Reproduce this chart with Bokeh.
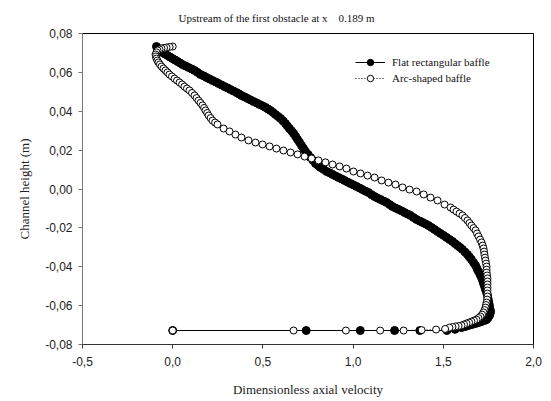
from bokeh.plotting import figure
from bokeh.models import FixedTicker, Legend, LegendItem, Range1d
from bokeh.embed import file_html
from bokeh.resources import INLINE

title_text = "Upstream of the first obstacle at x \u00a0 \u00a00.189 m"
x_label = "Dimensionless axial velocity"
y_label = "Channel height (m)"
series_names = ["Flat rectangular baffle", "Arc-shaped baffle"]

x_ticks = [-0.5, 0.0, 0.5, 1.0, 1.5, 2.0]
x_tick_labels = ["-0,5", "0,0", "0,5", "1,0", "1,5", "2,0"]
y_ticks = [-0.08, -0.06, -0.04, -0.02, 0.0, 0.02, 0.04, 0.06, 0.08]
y_tick_labels = ["-0,08", "-0,06", "-0,04", "-0,02", "0,00", "0,02", "0,04", "0,06", "0,08"]

# Flat rectangular baffle (filled circles), read along the profile from top wall to bottom wall
flat_x = [-0.090, -0.085, -0.079, -0.068, -0.057, -0.043, -0.029, -0.015, -0.001, 0.013,
          0.027, 0.041, 0.054, 0.071, 0.088, 0.105, 0.121, 0.138, 0.154, 0.171,
          0.187, 0.204, 0.221, 0.238, 0.254, 0.271, 0.287, 0.304, 0.320, 0.337,
          0.354, 0.368, 0.381, 0.398, 0.415, 0.432, 0.448, 0.465, 0.481, 0.498,
          0.514, 0.528, 0.542, 0.556, 0.570, 0.584, 0.598, 0.612, 0.625, 0.636,
          0.647, 0.659, 0.670, 0.681, 0.692, 0.703, 0.714, 0.725, 0.736, 0.750,
          0.764, 0.778, 0.792, 0.806, 0.819, 0.836, 0.853, 0.870, 0.886, 0.903,
          0.919, 0.936, 0.952, 0.969, 0.985, 1.002, 1.019, 1.036, 1.052, 1.069,
          1.085, 1.102, 1.119, 1.136, 1.152, 1.169, 1.185, 1.202, 1.218, 1.235,
          1.252, 1.269, 1.285, 1.302, 1.318, 1.335, 1.352, 1.369, 1.385, 1.402,
          1.418, 1.435, 1.451, 1.468, 1.485, 1.502, 1.518, 1.535, 1.551, 1.565,
          1.579, 1.593, 1.606, 1.620, 1.634, 1.645, 1.656, 1.668, 1.679, 1.687,
          1.695, 1.704, 1.712, 1.718, 1.723, 1.729, 1.734, 1.740, 1.745, 1.748,
          1.751, 1.754, 1.756, 1.759, 1.762, 1.759, 1.756, 1.748, 1.740, 1.726,
          1.712, 1.696, 1.679, 1.660, 1.640, 1.621, 1.601,
          1.565, 1.520, 1.370, 1.230, 1.040, 0.740, 0.000]
flat_y = [0.0733, 0.0726, 0.0718, 0.0710, 0.0702, 0.0695, 0.0687, 0.0679, 0.0671, 0.0664,
          0.0656, 0.0648, 0.0640, 0.0633, 0.0625, 0.0618, 0.0610, 0.0600, 0.0589, 0.0582,
          0.0574, 0.0566, 0.0558, 0.0551, 0.0543, 0.0535, 0.0527, 0.0520, 0.0512, 0.0504,
          0.0496, 0.0489, 0.0481, 0.0474, 0.0466, 0.0458, 0.0450, 0.0443, 0.0435, 0.0428,
          0.0420, 0.0412, 0.0404, 0.0394, 0.0383, 0.0373, 0.0363, 0.0350, 0.0337, 0.0324,
          0.0311, 0.0299, 0.0286, 0.0271, 0.0255, 0.0240, 0.0224, 0.0209, 0.0193, 0.0178,
          0.0162, 0.0147, 0.0131, 0.0121, 0.0111, 0.0101, 0.0090, 0.0083, 0.0075, 0.0067,
          0.0059, 0.0052, 0.0044, 0.0036, 0.0028, 0.0021, 0.0013, 0.0005, -0.0003, -0.0011,
          -0.0018, -0.0029, -0.0039, -0.0047, -0.0054, -0.0062, -0.0069, -0.0080, -0.0090, -0.0098,
          -0.0105, -0.0113, -0.0121, -0.0129, -0.0136, -0.0147, -0.0157, -0.0165, -0.0172, -0.0180,
          -0.0188, -0.0198, -0.0208, -0.0219, -0.0229, -0.0239, -0.0249, -0.0260, -0.0270, -0.0281,
          -0.0291, -0.0301, -0.0311, -0.0324, -0.0337, -0.0350, -0.0363, -0.0379, -0.0394, -0.0410,
          -0.0425, -0.0441, -0.0456, -0.0471, -0.0486, -0.0502, -0.0517, -0.0533, -0.0548, -0.0564,
          -0.0579, -0.0592, -0.0605, -0.0618, -0.0630, -0.0641, -0.0651, -0.0662, -0.0672, -0.0677,
          -0.0682, -0.0687, -0.0692, -0.0697, -0.0702, -0.0708, -0.0713,
          -0.0722, -0.0728, -0.0728, -0.0728, -0.0728, -0.0728, -0.0728]

# Arc-shaped baffle (open circles)
arc_x = [0.000, -0.017, -0.034, -0.048, -0.062, -0.073, -0.084, -0.090, -0.095, -0.093,
         -0.090, -0.085, -0.079, -0.071, -0.062, -0.051, -0.040, -0.029, -0.018, -0.004,
         0.010, 0.024, 0.038, 0.052, 0.065, 0.079, 0.093, 0.107, 0.121, 0.132,
         0.143, 0.154, 0.165, 0.174, 0.182, 0.191, 0.199, 0.210, 0.221, 0.235,
         0.248,
         0.282, 0.315, 0.348, 0.381, 0.420, 0.459, 0.498, 0.537, 0.575, 0.614,
         0.653, 0.692, 0.731, 0.770, 0.808, 0.847, 0.886, 0.925, 0.963, 1.002,
         1.041, 1.080, 1.119, 1.158, 1.196, 1.235, 1.274, 1.313, 1.352, 1.391,
         1.429, 1.468, 1.507,
         1.540, 1.557, 1.573, 1.590, 1.606, 1.620, 1.634, 1.645, 1.656, 1.668,
         1.679, 1.687, 1.695, 1.704, 1.712, 1.718, 1.723, 1.726, 1.728, 1.731,
         1.734, 1.737, 1.740, 1.740, 1.740, 1.743, 1.745, 1.745, 1.745, 1.745,
         1.745, 1.745, 1.745, 1.743, 1.740, 1.737, 1.734, 1.729, 1.723, 1.715,
         1.706, 1.695, 1.684, 1.670, 1.656, 1.643, 1.629, 1.615, 1.601, 1.585,
         1.568, 1.551, 1.534,
         1.510, 1.460, 1.380, 1.280, 1.150, 0.960, 0.670, 0.000]
arc_y = [0.0733, 0.0731, 0.0728, 0.0726, 0.0723, 0.0718, 0.0713, 0.0703, 0.0692, 0.0682,
         0.0671, 0.0661, 0.0651, 0.0641, 0.0630, 0.0620, 0.0610, 0.0600, 0.0589, 0.0579,
         0.0568, 0.0558, 0.0548, 0.0538, 0.0527, 0.0517, 0.0507, 0.0494, 0.0481, 0.0468,
         0.0455, 0.0443, 0.0430, 0.0417, 0.0404, 0.0391, 0.0378, 0.0365, 0.0352, 0.0342,
         0.0332,
         0.0311, 0.0296, 0.0280, 0.0265, 0.0250, 0.0239, 0.0229, 0.0219, 0.0208, 0.0198,
         0.0188, 0.0178, 0.0167, 0.0157, 0.0147, 0.0137, 0.0126, 0.0116, 0.0105, 0.0090,
         0.0080, 0.0069, 0.0059, 0.0044, 0.0033, 0.0023, 0.0008, -0.0003, -0.0013, -0.0028,
         -0.0044, -0.0059, -0.0080,
         -0.0095, -0.0106, -0.0116, -0.0126, -0.0136, -0.0149, -0.0162, -0.0175, -0.0188, -0.0201,
         -0.0213, -0.0229, -0.0244, -0.0260, -0.0275, -0.0291, -0.0306, -0.0322, -0.0337, -0.0353,
         -0.0368, -0.0384, -0.0399, -0.0415, -0.0430, -0.0445, -0.0460, -0.0476, -0.0491, -0.0507,
         -0.0522, -0.0538, -0.0553, -0.0569, -0.0584, -0.0597, -0.0610, -0.0623, -0.0635, -0.0646,
         -0.0656, -0.0664, -0.0672, -0.0677, -0.0682, -0.0687, -0.0692, -0.0697, -0.0702, -0.0705,
         -0.0707, -0.0710, -0.0713,
         -0.0720, -0.0723, -0.0726, -0.0728, -0.0728, -0.0728, -0.0728, -0.0728]

p = figure(width=551, height=401, output_backend="svg", toolbar_location=None,
           x_range=Range1d(-0.5, 2.0), y_range=Range1d(-0.08, 0.08),
           min_border_left=82, min_border_right=18, min_border_top=33, min_border_bottom=57)
p.background_fill_color = "white"
p.border_fill_color = "white"
p.outline_line_color = "black"
p.outline_line_width = 1
p.xgrid.visible = False
p.ygrid.visible = False

p.title.text = title_text
p.title.text_font = "Liberation Serif"
p.title.text_font_size = "11px"
p.title.text_font_style = "normal"
p.title.text_color = "#111111"
p.title.align = "left"
p.title.offset = 96
p.title.vertical_align = "top"
p.title.standoff = 15

l1 = p.line(flat_x, flat_y, line_color="black", line_width=1)
s1 = p.scatter(flat_x, flat_y, marker="circle", size=8, fill_color="black", line_color="black")
l2 = p.line(arc_x, arc_y, line_color="black", line_width=1, line_dash="1 2")
s2 = p.scatter(arc_x, arc_y, marker="circle", size=7, fill_color="white", line_color="black", line_width=1)

legend = Legend(items=[LegendItem(label=series_names[0], renderers=[l1, s1]),
                       LegendItem(label=series_names[1], renderers=[l2, s2])],
                location=(273, 258), border_line_color=None, background_fill_alpha=0,
                padding=0, spacing=0, margin=0, glyph_width=30, glyph_height=16,
                label_height=16, label_standoff=7,
                label_text_font="Liberation Serif", label_text_font_size="11px",
                label_text_color="#111111")
p.add_layout(legend)

p.xaxis.ticker = FixedTicker(ticks=x_ticks, minor_ticks=[])
p.xaxis.major_label_overrides = dict(zip(x_ticks, x_tick_labels))
p.yaxis.ticker = FixedTicker(ticks=y_ticks, minor_ticks=[])
p.yaxis.major_label_overrides = dict(zip(y_ticks, y_tick_labels))

for ax in (p.xaxis[0], p.yaxis[0]):
    ax.major_tick_out = 4
    ax.major_tick_in = 0
    ax.minor_tick_out = 0
    ax.minor_tick_in = 0
    ax.major_label_text_font = "Liberation Sans"
    ax.major_label_text_font_size = "12px"
    ax.major_label_text_color = "#222222"
    ax.axis_label_text_font = "Liberation Serif"
    ax.axis_label_text_font_size = "13px"
    ax.axis_label_text_font_style = "normal"
    ax.axis_label_text_color = "#222222"

p.xaxis.axis_label = x_label
p.yaxis.axis_label = y_label
p.xaxis.axis_line_color = "#333333"
p.xaxis.major_tick_line_color = "#333333"
p.yaxis.axis_line_color = "#777777"
p.yaxis.major_tick_line_color = "#777777"
p.xaxis.major_label_standoff = 8
p.yaxis.major_label_standoff = 6
p.xaxis.axis_label_standoff = 13
p.yaxis.axis_label_standoff = 10

open("out.html", "w").write(file_html(p, INLINE))
